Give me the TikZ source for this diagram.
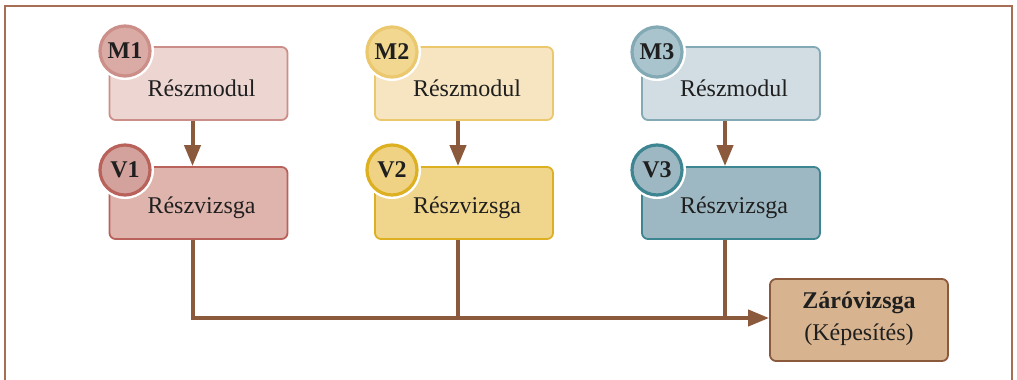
\documentclass[tikz,border=0pt]{standalone}
\usepackage{fontspec}
\setmainfont{Liberation Serif}
\usetikzlibrary{arrows.meta}
\definecolor{frame}{HTML}{A86E55}
\definecolor{flow}{HTML}{8B5A3C}
\definecolor{mA}{HTML}{EDD6D1}\definecolor{mAd}{HTML}{CC8E88}
\definecolor{vA}{HTML}{DFB4AD}\definecolor{vAd}{HTML}{B8625B}
\definecolor{bmA}{HTML}{DAAAA4}\definecolor{bvA}{HTML}{D4A29C}
\definecolor{mB}{HTML}{F6E5C0}\definecolor{mBd}{HTML}{EBC86E}
\definecolor{vB}{HTML}{F0D68C}\definecolor{vBd}{HTML}{DDB022}
\definecolor{bmB}{HTML}{F1D78F}\definecolor{bvB}{HTML}{EFD283}
\definecolor{mC}{HTML}{D1DDE2}\definecolor{mCd}{HTML}{82A9B4}
\definecolor{vC}{HTML}{9DB8C2}\definecolor{vCd}{HTML}{3E8592}
\definecolor{bmC}{HTML}{AAC4CD}\definecolor{bvC}{HTML}{9DB8C2}
\definecolor{zvfill}{HTML}{D7B48F}\definecolor{zvdraw}{HTML}{8B5A3C}
\tikzset{
  box/.style={draw, line width=1.8pt, rounded corners=6pt, minimum width=178pt, minimum height=73pt, inner sep=0pt},
  badge/.style={circle, draw, line width=3.2pt, minimum size=50pt, inner sep=0pt, font=\fontsize{24}{24}\selectfont\bfseries, text=black!88},
  halo/.style={circle, fill=white, minimum size=58pt, inner sep=0pt},
  txt/.style={font=\fontsize{24}{24}\selectfont, text=black!88, inner sep=0pt},
  flowline/.style={draw=flow, line width=4pt},
  arr/.style={flowline, -{Triangle[length=21pt,width=16pt]}},
}
\begin{document}
\begin{tikzpicture}[x=1pt,y=-1pt]
\useasboundingbox (0,0) rectangle (1017,380);
% outer frame, open at the bottom
\draw[frame, line width=1.8pt] (5,390) -- (5,6) -- (1012,6) -- (1012,390);

% module and exam boxes
\node[box, fill=mA, draw=mAd] (m1) at (198.5,83.5) {};
\node[box, fill=vA, draw=vAd, minimum height=72pt] (v1) at (198.5,203) {};
\node[box, fill=mB, draw=mBd] (m2) at (464,83.5) {};
\node[box, fill=vB, draw=vBd, minimum height=72pt] (v2) at (464,203) {};
\node[box, fill=mC, draw=mCd] (m3) at (731,83.5) {};
\node[box, fill=vC, draw=vCd, minimum height=72pt] (v3) at (731,203) {};
\node[box, fill=zvfill, draw=zvdraw, minimum height=82pt] (zv) at (859,320) {};

% box texts
\node[txt] (m1t) at ([shift={(3,5)}]m1.center) {Részmodul};
\node[txt] (v1t) at ([shift={(3,5)}]v1.center) {Részvizsga};
\node[txt] (m2t) at ([shift={(3,5)}]m2.center) {Részmodul};
\node[txt] (v2t) at ([shift={(3,5)}]v2.center) {Részvizsga};
\node[txt] (m3t) at ([shift={(3,5)}]m3.center) {Részmodul};
\node[txt] (v3t) at ([shift={(3,5)}]v3.center) {Részvizsga};
\node[txt, align=center, font=\fontsize{24}{32}\selectfont] (zvt) at ([yshift=1]zv.center) {\textbf{Záróvizsga}\\(Képesítés)};

% numbered badges
\foreach \n/\p/\f/\d/\t in {bm1/{(125,51)}/bmA/mAd/M1, bv1/{(125,170)}/bvA/vAd/V1,
                           bm2/{(392,52)}/bmB/mBd/M2, bv2/{(392,170)}/bvB/vBd/V2,
                           bm3/{(657,52)}/bmC/mCd/M3, bv3/{(657,170)}/bvC/vCd/V3}{
  \node[halo] at \p {};
  \node[badge, fill=\f, draw=\d] (\n) at \p {\t};
}

% connectors
\draw[arr] ([xshift=-6]m1.south) -- ([xshift=-6]v1.north);
\draw[arr] ([xshift=-6]m2.south) -- ([xshift=-6]v2.north);
\draw[arr] ([xshift=-6]m3.south) -- ([xshift=-6]v3.north);
\draw[flowline] ([xshift=-6]v2.south) -- ([xshift=-6,yshift=2]v2.south |- zv.west);
\draw[flowline] ([xshift=-6]v3.south) -- ([xshift=-6,yshift=2]v3.south |- zv.west);
\draw[arr] ([xshift=-6]v1.south) |- ([yshift=2]zv.west);
\end{tikzpicture}
\end{document}
